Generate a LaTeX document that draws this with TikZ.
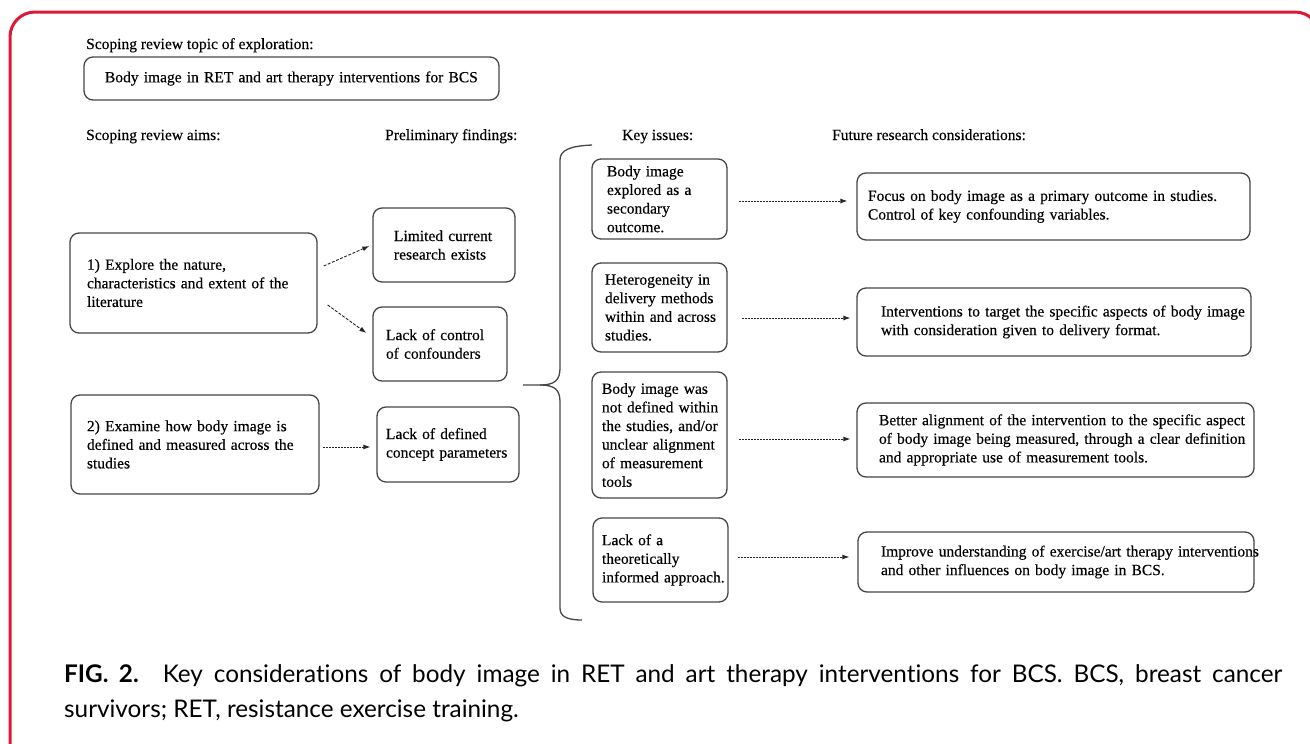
\documentclass[tikz,border=0pt]{standalone}
\usepackage{fontspec}
\setmainfont{Liberation Serif}
\newfontfamily\dfont[FakeBold=0.3]{Liberation Serif}
\newfontfamily\capfont[Ligatures={NoCommon,NoDiscretionary}]{Lato}
\usetikzlibrary{arrows.meta,calc}
\definecolor{framered}{RGB}{221,25,55}
\definecolor{boxgray}{RGB}{70,70,70}
\newcommand\dfs{\dfont\fontsize{15.5}{18.6}\selectfont}
\newcommand\LL[1]{\mbox{#1}}
\begin{document}
\begin{tikzpicture}[x=1pt,y=-1pt,
  box/.style={draw=boxgray, line width=1.3pt, rounded corners=9pt, align=left, inner ysep=0pt, font=\dfs},
  head/.style={anchor=base west, inner sep=0pt, font=\dfs},
  arr/.style={draw=black!85, line width=0.9pt, dash pattern=on 2pt off 1pt, -{Latex[length=7pt,width=5pt]}},
  brace/.style={draw=boxgray, line width=1.3pt}]
\useasboundingbox (0,0) rectangle (1310,744);
\fill[white] (0,0) rectangle (1310,744);
\draw[framered, line width=3pt, rounded corners=25pt] (10,770) -- (10,12) -- (1320,12) -- (1320,770);

% headers
\node[head] (th) at (86,49) {Scoping review topic of exploration:};
\node[head] (ha) at (86,140) {Scoping review aims:};
\node[head] (hp) at (385,140) {Preliminary findings:};
\node[head] (hk) at (622,140) {Key issues:};
\node[head] (hf) at (832,140) {Future research considerations:};

% topic
\node[box, text width=373pt, inner xsep=21pt, minimum height=43pt] (topic) at (291.5,78.5)
  {\LL{Body image in RET and art therapy interventions for BCS}};

% aims
\node[box, text width=213pt, inner xsep=17pt, minimum height=100pt] (A1) at (193.5,283)
  {\LL{1) Explore the nature,}\\\LL{characteristics and extent of the}\\\LL{literature}};
\node[box, text width=216pt, inner xsep=16pt, minimum height=99pt] (A2) at (195,444.5)
  {\LL{2) Examine how body image is}\\\LL{defined and measured across the}\\\LL{studies}};

% findings
\node[box, text width=100pt, inner xsep=21pt, minimum height=74pt] (F1) at (444,245)
  {\LL{Limited current}\\\LL{research exists}};
\node[box, text width=108pt, inner xsep=13pt, minimum height=74pt] (F2) at (440,344)
  {\LL{Lack of control}\\\LL{of confounders}};
\node[box, text width=124pt, inner xsep=9pt, minimum height=75pt] (F3) at (448,444.5)
  {\LL{Lack of defined}\\\LL{concept parameters}};

% key issues
\node[box, text width=105pt, inner xsep=15pt, minimum height=80pt] (K1) at (659.5,199)
  {\LL{Body image}\\\LL{explored as a}\\\LL{secondary}\\\LL{outcome.}};
\node[box, text width=109pt, inner xsep=13pt, minimum height=89pt] (K2) at (659.5,307.5)
  {\LL{Heterogeneity in}\\\LL{delivery methods}\\\LL{within and across}\\\LL{studies.}};
\node[box, text width=115pt, inner xsep=10pt, minimum height=126pt] (K3) at (659.5,435)
  {\LL{Body image was}\\\LL{not defined within}\\\LL{the studies, and/or}\\\LL{unclear alignment}\\\LL{of measurement}\\\LL{tools}};
\node[box, text width=117pt, inner xsep=9pt, minimum height=84pt] (K4) at (660.5,560)
  {\LL{Lack of a}\\\LL{theoretically}\\\LL{informed approach.}};

% future research
\node[box, text width=371pt, inner xsep=11pt, minimum height=67pt] (R1) at (1053.5,206.5)
  {\LL{Focus on body image as a primary outcome in studies.}\\\LL{Control of key confounding variables.}};
\node[box, text width=346pt, inner xsep=24pt, minimum height=68pt] (R2) at (1054,322)
  {\LL{Interventions to target the specific aspects of body image}\\\LL{with consideration given to delivery format.}};
\node[box, text width=353pt, inner xsep=22pt, minimum height=74pt] (R3) at (1055.5,440)
  {\LL{Better alignment of the intervention to the specific aspect}\\\LL{of body image being measured, through a clear definition}\\\LL{and appropriate use of measurement tools.}};
\node[box, text width=350pt, inner xsep=23pt, minimum height=60pt] (R4) at (1056,562)
  {\LL{Improve understanding of exercise/art therapy interventions}\\\LL{and other influences on body image in BCS.}};

% arrows aims -> findings
\draw[arr, dash pattern=on 3pt off 1.5pt] ($(A1.east)+(6,-17)$) -- ($(F1.west)+(-3,1)$);
\draw[arr, dash pattern=on 3pt off 1.5pt] ($(A1.east)+(10,22)$) -- ($(F2.west)+(-6,-11)$);
\draw[arr] ($(A2.east)+(3,2.5)$) -- ($(F3.west)+(-6,2.5)$);

% brace
\draw[brace] (523,385) -- (540,385) .. controls (555,385) and (560,380) .. (560,368)
  -- (560,160) .. controls (560,150) and (570,146) .. (592,145);
\draw[brace] (540,385) .. controls (555,385) and (560,390) .. (560,402)
  -- (560,608) .. controls (560,616) and (566,620) .. (582,620);

% arrows key issues -> future research
\draw[arr] ($(K1.east)+(11,2)$) -- ($(R1.west)+(-9,-5.5)$);
\draw[arr] ($(K2.east)+(14,10.5)$) -- ($(R2.west)+(-6,-4)$);
\draw[arr] ($(K3.east)+(11,4)$) -- ($(R3.west)+(-6,-1)$);
\draw[arr] ($(K4.east)+(9,-3)$) -- ($(R4.west)+(-8,-5)$);

% caption
\node[anchor=base west, inner sep=0pt, align=justify, text width=1218pt,
  font=\capfont\fontsize{24.3}{35}\selectfont] (cap) at (64,682)
  {\textbf{FIG. 2.}\hspace{24pt}Key considerations of body image in RET and art therapy interventions for BCS. BCS, breast cancer\linebreak survivors; RET, resistance exercise training.};
\end{tikzpicture}
\end{document}
